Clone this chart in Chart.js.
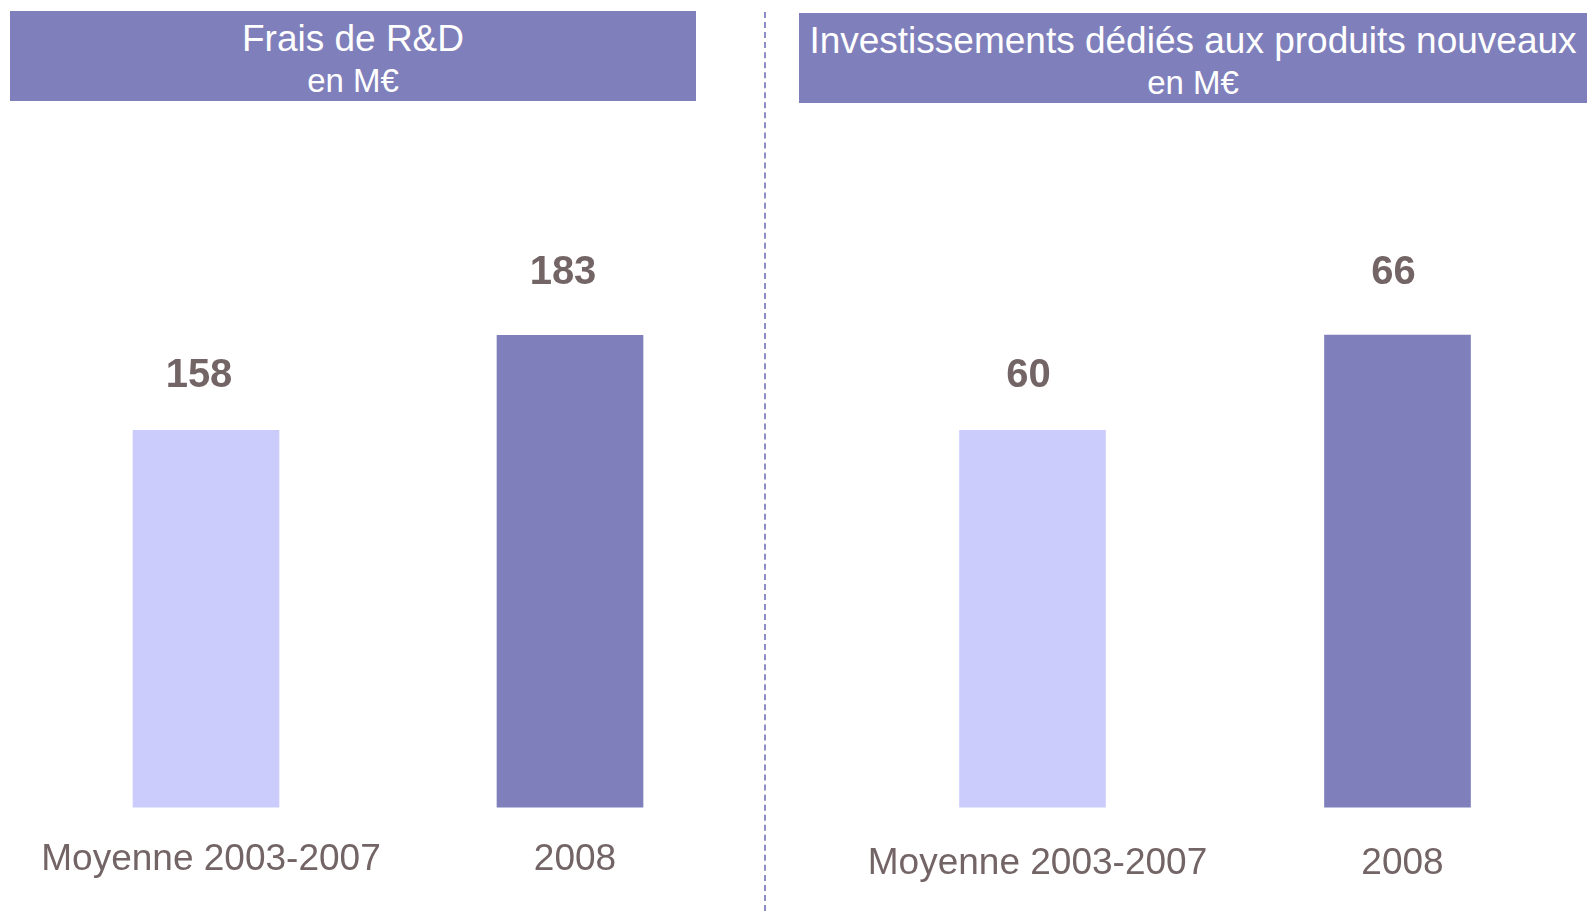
<!DOCTYPE html>
<html>
<head>
<meta charset="utf-8">
<script src="https://cdn.jsdelivr.net/npm/chart.js@4/dist/chart.umd.min.js"></script>
<style>
  html, body { margin:0; padding:0; background:#ffffff; }
  body { width:1587px; height:911px; position:relative; overflow:hidden; font-family:"Liberation Sans", Arial, sans-serif; }
  canvas { position:absolute; top:0; }
  .hdr { position:absolute; background:#7f80bb; z-index:2; }
  .line { position:absolute; left:0; right:0; text-align:center; color:#ffffff; height:44px; line-height:44px; white-space:nowrap; }
  .l1 { font-size:37px; }
  .l2 { font-size:33px; }
  .divider { position:absolute; left:764px; top:12px; height:899px; width:0; border-left:2px dashed #8d8dc6; z-index:1; }
</style>
</head>
<body>
<div class="hdr" style="left:10px; top:11px; width:686px; height:90px;">
  <div class="line l1" style="top:6px;">Frais de R&amp;D</div>
  <div class="line l2" style="top:48px;">en M€</div>
</div>
<div class="hdr" style="left:799px; top:13px; width:788px; height:90px;">
  <div class="line l1" style="top:6px;">Investissements dédiés aux produits nouveaux</div>
  <div class="line l2" style="top:48px;">en M€</div>
</div>
<div class="divider"></div>
<canvas id="c1" width="765" height="931" style="left:0px;"></canvas>
<canvas id="c2" width="822" height="931" style="left:765px;"></canvas>
<script>
// ---- data ----
const categories = ['Moyenne 2003-2007', '2008'];
const rdValues = [158, 183];
const investValues = [60, 66];
const barColors = ['#ccccfc', '#7f80bb'];

Chart.defaults.font.family = '"Liberation Sans", Arial, sans-serif';
const textColor = '#736466';

const valueLabels = {
  id: 'valueLabels',
  afterDatasetsDraw(chart, args, opts) {
    const ctx = chart.ctx;
    const meta = chart.getDatasetMeta(0);
    const data = chart.data.datasets[0].data;
    const bottom = chart.chartArea.bottom;
    meta.data.forEach((bar, i) => {
      const h = bottom - bar.y;
      const gap = 22 + 0.085 * h;
      ctx.save();
      ctx.font = 'bold 40px "Liberation Sans", Arial, sans-serif';
      ctx.fillStyle = textColor;
      ctx.textAlign = 'center';
      ctx.textBaseline = 'middle';
      ctx.fillText(String(data[i]), bar.x + opts.dx, bar.y - gap);
      ctx.restore();
    });
  }
};

function makeChart(id, values, yMin, yMax, padL, padR, padB, tickPad, dx) {
  return new Chart(document.getElementById(id), {
    type: 'bar',
    data: {
      labels: categories,
      datasets: [{ data: values, backgroundColor: barColors, borderWidth: 0, barThickness: 146 }]
    },
    options: {
      responsive: false,
      animation: false,
      layout: { padding: { top: 150, bottom: padB, left: padL, right: padR } },
      plugins: {
        legend: { display: false },
        tooltip: { enabled: false },
        valueLabels: { dx: dx }
      },
      scales: {
        x: {
          grid: { display: false, drawTicks: false },
          border: { display: false },
          ticks: { color: textColor, font: { size: 37 }, padding: tickPad, labelOffset: 5, maxRotation: 0, autoSkip: false }
        },
        y: { display: false, min: yMin, max: yMax }
      }
    },
    plugins: [valueLabels]
  });
}

makeChart('c1', rdValues, 58.8, 231.7, 24, 13, 19, 30, -7);
makeChart('c2', investValues, 36.19, 77.68, 85, 7, 11, 34, -4);
</script>
</body>
</html>
